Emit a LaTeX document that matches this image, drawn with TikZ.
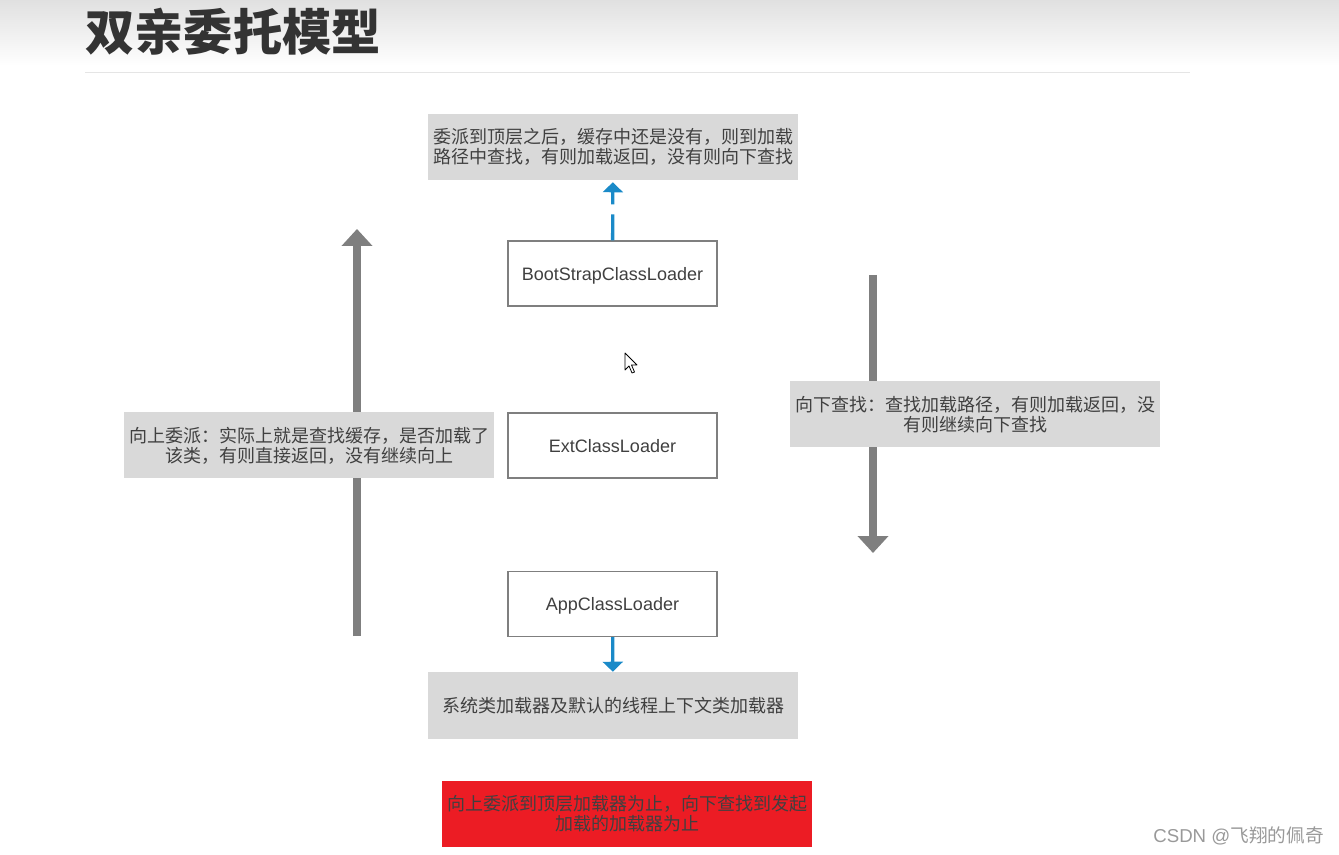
\documentclass[tikz,border=0pt]{standalone}
\usepackage{fontspec}
\setmainfont{Liberation Sans}
\newfontfamily\cjk{Noto Sans CJK SC}
\usetikzlibrary{arrows.meta}
\definecolor{boxgray}{HTML}{D9D9D9}
\definecolor{linegray}{HTML}{7F7F7F}
\definecolor{txtgray}{HTML}{404040}
\definecolor{loadblue}{HTML}{1A8AC8}
\definecolor{notered}{HTML}{EC1C24}
\tikzset{
  loader/.style={draw=linegray, line width=1pt, fill=white, minimum width=156.75pt,
    minimum height=48.75pt, inner sep=0pt, text depth=0pt, font=\fontsize{13.5}{15}\selectfont, text=txtgray},
  note/.style={fill=boxgray, minimum width=277.5pt, minimum height=49.5pt, inner sep=0pt,
    align=center, font=\cjk\fontsize{13.5}{15}\selectfont, text=txtgray},
  bigarrow/.style={draw=linegray, line width=6pt, -{Triangle[width=22.5pt,length=12.75pt]}},
  bluearrow/.style={draw=loadblue, line width=2.5pt, -{Triangle[width=15pt,length=7.5pt]}},
}
\begin{document}
\begin{tikzpicture}[x=0.75pt,y=-0.75pt]
\useasboundingbox (0,0) rectangle (1339,855);
% title bar
\shade[top color=black!12, bottom color=white] (0,0) rectangle (1339,66);
\draw[black!10, line width=0.75pt] (85,73) -- (1190,73);
\node[anchor=west, inner sep=0pt, font=\cjk\bfseries\fontsize{37}{40}\selectfont, text=black!80] (title) at (85,32) {双亲委托模型};

% long arrows
\coordinate (upS) at (357,636);
\coordinate (upE) at (357,229);
\coordinate (downS) at (873,275);
\coordinate (downE) at (873,553);
\draw[bigarrow] (upS) -- (upE);
\draw[bigarrow] (downS) -- (downE);

% loaders
\node[loader] (boot) at (612.5,273.5) {BootStrapClassLoader};
\node[loader] (ext) at (612.5,445.5) {ExtClassLoader};
\node[loader] (app) at (612.5,604) {AppClassLoader};

% notes
\node[note] (topnote) at (613,147) {委派到顶层之后，缓存中还是没有，则到加载\\路径中查找，有则加载返回，没有则向下查找};
\node[note] (upnote) at (309,445.5) {向上委派：实际上就是查找缓存，是否加载了\\该类，有则直接返回，没有继续向上};
\node[note] (downnote) at (975,414.5) {向下查找：查找加载路径，有则加载返回，没\\有则继续向下查找};
\node[note, minimum height=50.25pt] (appnote) at (613,705.5) {系统类加载器及默认的线程上下文类加载器};
\node[note, fill=notered, text=black!75] (rule) at (627,813.5) {向上委派到顶层加载器为止，向下查找到发起\\加载的加载器为止};

\draw[bluearrow, dash pattern=on 19.5pt off 7.5pt, shorten >=1.5pt] (boot) -- (topnote);
\draw[bluearrow] (app) -- (appnote);

% mouse pointer
\draw[fill=white, line width=0.6pt, line join=round] (625,353) -- ++(0,17) -- ++(4,-4) -- ++(3,7)
  -- ++(2.5,-1) -- ++(-3,-7) -- ++(5.5,0) -- cycle;

\node[font=\fontsize{14}{16}\selectfont, text=black!40] (mark) at (1238.5,836) {CSDN @{\cjk 飞翔的佩奇}};
\end{tikzpicture}
\end{document}
